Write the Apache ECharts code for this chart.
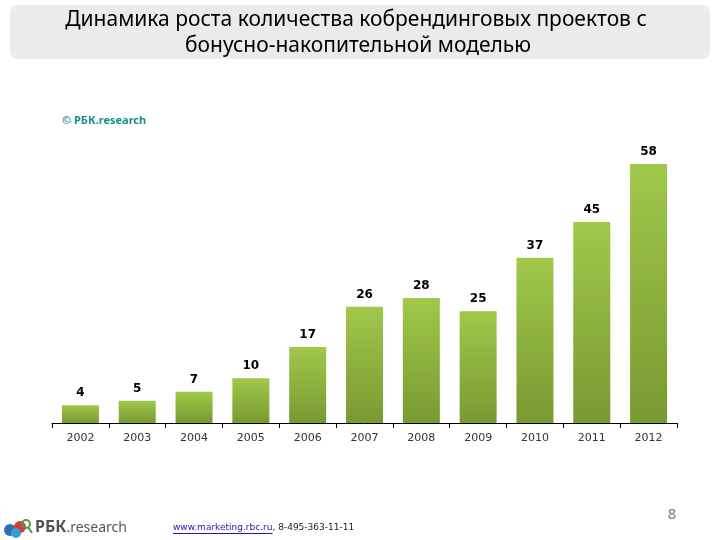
<!DOCTYPE html>
<html>
<head>
<meta charset="utf-8">
<script src="https://cdn.jsdelivr.net/npm/echarts@6/dist/echarts.min.js"></script>
<style>html,body{margin:0;padding:0;background:#fff}#c{width:720px;height:540px}</style>
</head>
<body>
<div id="c"></div>
<script>
const years = ['2002','2003','2004','2005','2006','2007','2008','2009','2010','2011','2012'];
const projects = [4, 5, 7, 10, 17, 26, 28, 25, 37, 45, 58];
const titleLines = ['Динамика роста количества кобрендинговых проектов с', 'бонусно-накопительной моделью'];
const sourceText = '© РБК.research';
const footerLink = 'www.marketing.rbc.ru';
const footerPhone = ', 8-495-363-11-11';
const pageNum = '8';

function textWidth(txt, font) {
  const cv = document.createElement('canvas').getContext('2d');
  cv.font = font;
  return cv.measureText(txt).width;
}
const footFont = '9px "DejaVu Sans"';
const linkW = textWidth(footerLink, footFont);
const logoFontA = 'bold 16px "Noto Sans"';
const logoW = textWidth('РБК', logoFontA);

const chart = echarts.init(document.getElementById('c'));
chart.setOption({
  animation: false,
  backgroundColor: '#ffffff',
  grid: { left: 52, right: 43, top: 155, bottom: 117 },
  xAxis: {
    type: 'category',
    data: years,
    axisLine: { lineStyle: { color: '#000', width: 1 } },
    axisTick: { show: true, length: 5, lineStyle: { color: '#000' } },
    axisLabel: { color: '#333', fontFamily: 'DejaVu Sans', fontSize: 11, margin: 10 }
  },
  yAxis: { type: 'value', min: 0, max: 60, show: false, splitLine: { show: false } },
  series: [{
    type: 'bar',
    data: projects,
    barWidth: 37,
    itemStyle: {
      color: new echarts.graphic.LinearGradient(0, 0, 0, 1, [
        { offset: 0, color: '#a0c84a' },
        { offset: 1, color: '#779a31' }
      ])
    },
    label: {
      show: true, position: 'top', distance: 6,
      color: '#000', fontWeight: 'bold', fontSize: 12, fontFamily: 'DejaVu Sans'
    }
  }],
  graphic: [
    { type: 'rect', shape: { x: 10, y: 5, width: 700, height: 54, r: 8 }, style: { fill: '#ebebeb' }, z: -1 },
    { type: 'text', x: 356, y: 20, style: { text: titleLines[0], fill: '#000', font: '21px "Noto Sans"', textAlign: 'center', textVerticalAlign: 'middle' } },
    { type: 'text', x: 358, y: 46, style: { text: titleLines[1], fill: '#000', font: '21px "Noto Sans"', textAlign: 'center', textVerticalAlign: 'middle' } },
    { type: 'text', x: 62, y: 121, style: { text: sourceText, fill: '#1a8c8c', font: 'bold 11px "Noto Sans"', textVerticalAlign: 'middle' } },
    { type: 'text', x: 173, y: 528, style: { text: footerLink, fill: '#1a1aa6', font: footFont, textVerticalAlign: 'middle' } },
    { type: 'text', x: 173 + linkW, y: 528, style: { text: footerPhone, fill: '#222', font: footFont, textVerticalAlign: 'middle' } },
    { type: 'line', shape: { x1: 173, y1: 533.5, x2: 173 + linkW, y2: 533.5 }, style: { stroke: '#1a1aa6', lineWidth: 1 } },
    { type: 'text', x: 672, y: 515, style: { text: pageNum, fill: '#777', font: '15px "Noto Sans"', textAlign: 'center', textVerticalAlign: 'middle' } },
    { type: 'circle', shape: { cx: 10, cy: 530, r: 6 }, style: { fill: '#2e6db4' } },
    { type: 'circle', shape: { cx: 20, cy: 527, r: 6 }, style: { fill: '#d83a3a' } },
    { type: 'circle', shape: { cx: 16, cy: 533, r: 5 }, style: { fill: '#3a9ad8' } },
    { type: 'circle', shape: { cx: 26, cy: 524, r: 4 }, style: { fill: 'none', stroke: '#4a9a4a', lineWidth: 2 } },
    { type: 'line', shape: { x1: 28, y1: 527, x2: 32, y2: 533 }, style: { stroke: '#4a9a4a', lineWidth: 2 } },
    { type: 'text', x: 35, y: 527, style: { text: 'РБК', fill: '#555', font: logoFontA, textVerticalAlign: 'middle' } },
    { type: 'text', x: 35 + logoW, y: 528, style: { text: '.research', fill: '#555', font: '14px "Noto Sans"', textVerticalAlign: 'middle' } }
  ]
});
</script>
</body>
</html>
